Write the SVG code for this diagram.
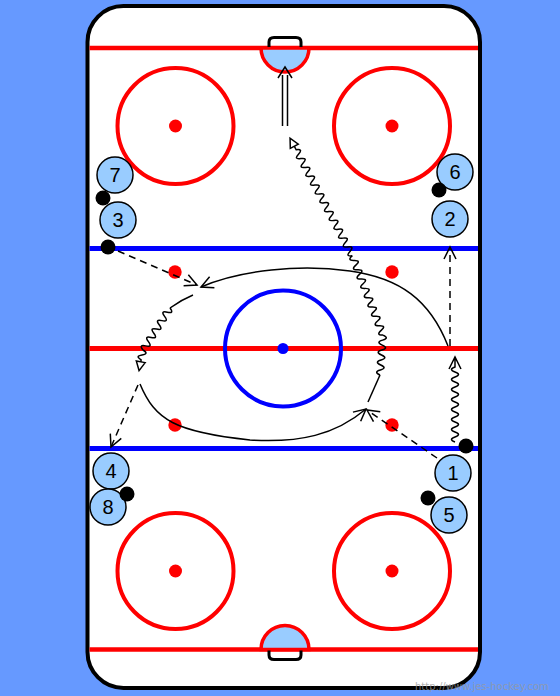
<svg xmlns="http://www.w3.org/2000/svg" width="560" height="696" viewBox="0 0 560 696">
<style>
.ice{fill:#fff;stroke:#000;stroke-width:4}
.fo{fill:none;stroke:#f00;stroke-width:4}
.rdot{fill:#f00}
.crease{fill:#9cf;stroke:#f00;stroke-width:3.5}
.net{fill:none;stroke:#000;stroke-width:3;stroke-linejoin:round}
.pl circle{fill:#9cf;stroke:#000;stroke-width:1.5}
.pl text{font-family:"Liberation Sans",Arial,sans-serif;font-size:20px;text-anchor:middle;fill:#000}
.puck{fill:#000}
.ln{fill:none;stroke:#000;stroke-width:1.5}
.dash{stroke-dasharray:7,5}
.tri{fill:#fff;stroke:#000;stroke-width:1.5}
</style>
<defs>
<marker id="ah" markerUnits="userSpaceOnUse" markerWidth="14" markerHeight="14" refX="12" refY="6" orient="auto" overflow="visible"><path d="M0,0 L12,6 L0,12" fill="none" stroke="#000" stroke-width="1.5"/></marker>
</defs>
<rect x="0" y="0" width="560" height="696" fill="#6699ff"/>
<g id="rink">
<rect class="ice" x="87.5" y="6" width="392.5" height="682" rx="36"/>
<line x1="89.5" y1="48" x2="478" y2="48" stroke="#f00" stroke-width="4.5"/>
<line x1="89.5" y1="649.5" x2="478" y2="649.5" stroke="#f00" stroke-width="4.5"/>
<line x1="89.5" y1="248.5" x2="478" y2="248.5" stroke="#00f" stroke-width="5"/>
<line x1="89.5" y1="448.5" x2="478" y2="448.5" stroke="#00f" stroke-width="5"/>
<line x1="89.5" y1="348.5" x2="478" y2="348.5" stroke="#f00" stroke-width="5"/>
<circle cx="283" cy="348.5" r="58" fill="none" stroke="#00f" stroke-width="4"/>
<circle cx="283" cy="348.5" r="5.5" fill="#00f"/>
<circle class="fo" cx="175.5" cy="126" r="58"/>
<circle class="fo" cx="392" cy="126" r="58"/>
<circle class="fo" cx="175.5" cy="571" r="58"/>
<circle class="fo" cx="392" cy="571" r="58"/>
<circle class="rdot" cx="175.5" cy="126" r="6.5"/>
<circle class="rdot" cx="392" cy="126" r="6.5"/>
<circle class="rdot" cx="175.5" cy="571" r="6.5"/>
<circle class="rdot" cx="392" cy="571" r="6.5"/>
<circle class="rdot" cx="175" cy="272" r="6.7"/>
<circle class="rdot" cx="392" cy="272" r="6.7"/>
<circle class="rdot" cx="175" cy="425" r="6.7"/>
<circle class="rdot" cx="392" cy="425" r="6.7"/>
<path class="crease" d="M261,48 A24,24 0 0 0 309,48 Z"/>
<path class="crease" d="M261,649.5 A24,24 0 0 1 309,649.5 Z"/>
<path class="net" d="M269,47 V42 Q269,37.5 274,37.5 H296 Q301,37.5 301,42 V47"/>
<path class="net" d="M269,650.5 V655 Q269,659.5 274,659.5 H296 Q301,659.5 301,655 V650.5"/>
</g>
<g id="connectors">
<path class="ln" d="M282.5,126 V75 M287.5,126 V75 M278,78 L285,67 L292,78"/>
<path class="ln dash" d="M118,251 L197,285" marker-end="url(#ah)"/>
<path class="ln" d="M448,346 C430,300 400,278 350,271 C300,264 240,270 201,287" marker-end="url(#ah)"/>
<path class="ln" d="M193,295 Q181,300 170,308"/>
<g transform="translate(170,308) rotate(122.7)"><path class="ln" d="M0,0 q2.5,-7 5,0 t5,0 t5,0 t5,0 t5,0 t5,0 t5,0 t5,0 t5,0 t5,0"/></g>
<g transform="translate(143,350) rotate(100.8)"><path class="ln" d="M0,0 q2.5,-7 5,0 t5,0 l2,0"/><polygon class="tri" points="12,-4.5 12,4.5 21,0"/></g>
<path class="ln dash" d="M138,385 L111,447" marker-end="url(#ah)"/>
<path class="ln" d="M140,384 C155,420 175,432 250,440 C300,443 335,435 366,409" marker-end="url(#ah)"/>
<path class="ln dash" d="M437,458 L367,410" marker-end="url(#ah)"/>
<path class="ln" d="M368,402 L380,375"/>
<g transform="translate(380,375) rotate(-85.7)"><path class="ln" d="M0,0 q2.5,-7 5,0 t5,0 t5,0 t5,0 t5,0 t5,0 t5,0 t5,0"/></g>
<g transform="translate(383,335) rotate(-111.2)"><path class="ln" d="M0,0 q2.5,-7 5,0 t5,0 t5,0 t5,0 t5,0 t5,0 t5,0 t5,0 t5,0 t5,0 t5,0 t5,0 t5,0 t5,0 t5,0 t5,0 t5,0"/></g>
<g transform="translate(352.3,255.8) rotate(-117.9)"><path class="ln" d="M0,0 q2.5,-7 5,0 t5,0 t5,0 t5,0 t5,0 t5,0 t5,0 t5,0 t5,0 t5,0 t5,0 t5,0 t5,0 t5,0 t5,0 t5,0 t5,0 t5,0 t5,0 t5,0 t5,0 t5,0 t5,0 t5,0 l4,0"/><polygon class="tri" points="124,-4.5 124,4.5 133,0"/></g>
<g transform="translate(455,442) rotate(-90)"><path class="ln" d="M0,0 q2.5,-7 5,0 t5,0 t5,0 t5,0 t5,0 t5,0 t5,0 t5,0 t5,0 t5,0 t5,0 t5,0 t5,0 t5,0 t5,0 l10,0 M73,-6 L85,0 L73,6"/></g>
<path class="ln dash" d="M450,346 L450,247" marker-end="url(#ah)"/>
</g>
<g id="p7" class="pl"><circle cx="115" cy="175" r="18"/><text x="115" y="182">7</text></g>
<g id="p3" class="pl"><circle cx="118" cy="220" r="18"/><text x="118" y="227">3</text></g>
<g id="p6" class="pl"><circle cx="455" cy="172" r="18"/><text x="455" y="179">6</text></g>
<g id="p2" class="pl"><circle cx="450" cy="219" r="18"/><text x="450" y="226">2</text></g>
<g id="p4" class="pl"><circle cx="111" cy="471" r="18"/><text x="111" y="478">4</text></g>
<g id="p8" class="pl"><circle cx="108" cy="507" r="18"/><text x="108" y="514">8</text></g>
<g id="p1" class="pl"><circle cx="453" cy="473" r="18"/><text x="453" y="480">1</text></g>
<g id="p5" class="pl"><circle cx="449" cy="515" r="18"/><text x="449" y="522">5</text></g>
<g id="pucks">
<circle class="puck" cx="103" cy="198" r="7.5"/>
<circle class="puck" cx="108" cy="247" r="7.5"/>
<circle class="puck" cx="439" cy="190" r="7.5"/>
<circle class="puck" cx="127" cy="494" r="7.5"/>
<circle class="puck" cx="428" cy="498" r="7.5"/>
<circle class="puck" cx="466" cy="446" r="7.5"/>
</g>
<text x="415" y="690" font-family="DejaVu Sans, sans-serif" font-size="10" fill="#999" fill-opacity="0.75">http://www.jes-hockey.com</text>
</svg>
